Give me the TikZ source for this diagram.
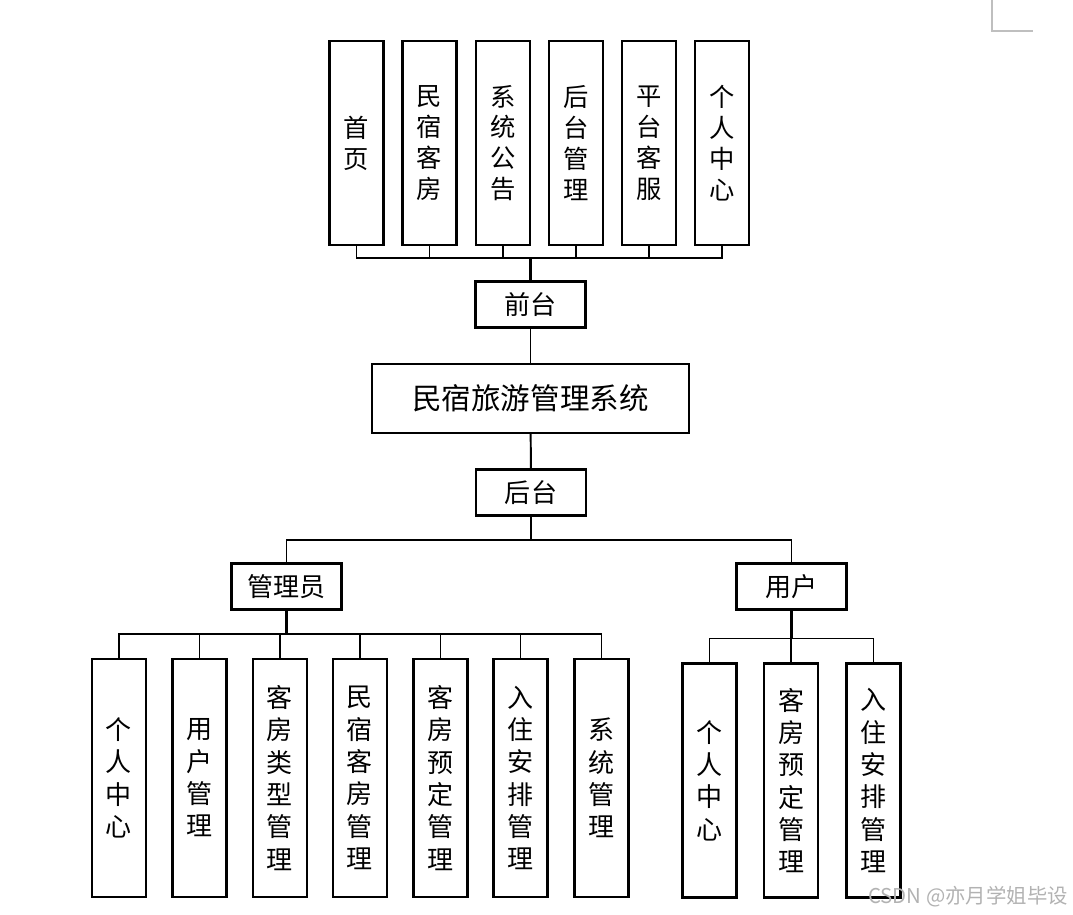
\documentclass[tikz,border=0pt]{standalone}
\usepackage{fontspec}
\usepackage{tikz}
\usetikzlibrary{positioning}
\newfontfamily\cjk{Noto Sans CJK SC}
\def\colW{54}
\def\topH{204}
\def\lowH{238}
\begin{document}
\begin{tikzpicture}[
    x=0.025cm, y=-0.025cm,
    line width=1.4pt,
    every node/.style={draw, line width=1.5pt, inner sep=0pt, font=\cjk},
    colbox/.style={minimum width=\colW*0.025cm, align=center},
    topbox/.style={colbox, minimum height=\topH*0.025cm, font=\cjk\fontsize{18}{22}\selectfont},
    lowbox/.style={colbox, minimum height=\lowH*0.025cm, font=\cjk\fontsize{18.5}{23}\selectfont},
    midbox/.style={minimum width=2.75cm, minimum height=1.15cm, font=\cjk\fontsize{18.5}{22}\selectfont},
    trunk/.style={line width=2.2pt}
]
\useasboundingbox (0,0) rectangle (1073,915);

% front end
\node[topbox] (sy) at (356.5,143) {首\\页};
\node[topbox] (mskf) at (429.5,143) {民\\宿\\客\\房};
\node[topbox] (xtgg) at (503,143) {系\\统\\公\\告};
\node[topbox] (htgl) at (576,143) {后\\台\\管\\理};
\node[topbox] (ptkf) at (649,143) {平\\台\\客\\服};
\node[topbox] (grzx) at (722,143) {个\\人\\中\\心};
\node[midbox] (qt) at (530.5,304.5) {前台};

% system
\node[minimum width=7.925cm, minimum height=1.725cm, font=\cjk\fontsize{21}{24}\selectfont] (sys) at (530.5,398.5) {民宿旅游管理系统};
\node[midbox] (ht) at (531,492.5) {后台};

% roles
\node[midbox] (admin) at (286.5,586.5) {管理员};
\node[midbox] (user) at (791.5,586.5) {用户};

% admin modules
\node[lowbox] (a1) at (119,778) {个\\人\\中\\心};
\node[lowbox] (a2) at (199.5,778) {用\\户\\管\\理};
\node[lowbox] (a3) at (280,778) {客\\房\\类\\型\\管\\理};
\node[lowbox] (a4) at (360,778) {民\\宿\\客\\房\\管\\理};
\node[lowbox] (a5) at (440.5,778) {客\\房\\预\\定\\管\\理};
\node[lowbox] (a6) at (520.5,778) {入\\住\\安\\排\\管\\理};
\node[lowbox] (a7) at (601.5,778) {系\\统\\管\\理};

% user modules
\node[lowbox, minimum height=234*0.025cm] (u1) at (709.5,780.5) {个\\人\\中\\心};
\node[lowbox, minimum height=234*0.025cm] (u2) at (791,780.5) {客\\房\\预\\定\\管\\理};
\node[lowbox, minimum height=234*0.025cm] (u3) at (873.5,780.5) {入\\住\\安\\排\\管\\理};

% buses
\coordinate (topbus) at (530.5,258);
\coordinate (midbus) at (531,540);
\coordinate (adminbus) at (286.5,634);
\coordinate (userbus) at (791.5,638.5);

\draw (sy.south) |- (topbus);
\draw (mskf.south) |- (topbus);
\draw (xtgg.south) |- (topbus);
\draw (htgl.south) |- (topbus);
\draw (ptkf.south) |- (topbus);
\draw (grzx.south) |- (topbus);
\draw[trunk] (topbus) -- (qt.north);
\draw (qt) -- (sys);
\draw (sys) -- (ht);
\draw (ht.south) -- (midbus);
\draw (admin.north) |- (midbus);
\draw (user.north) |- (midbus);

\draw[trunk] (admin.south) -- (adminbus);
\draw (a1.north) |- (adminbus);
\draw (a2.north) |- (adminbus);
\draw (a3.north) |- (adminbus);
\draw (a4.north) |- (adminbus);
\draw (a5.north) |- (adminbus);
\draw (a6.north) |- (adminbus);
\draw (a7.north) |- (adminbus);

\draw[trunk] (user.south) -- (userbus);
\draw (u1.north) |- (userbus);
\draw (u2.north) |- (userbus);
\draw (u3.north) |- (userbus);

% page corner mark and watermark
\coordinate (cornerA) at (992,0);
\coordinate (cornerB) at (1033,31);
\draw[black!25, line width=0.8pt] (cornerA) |- (cornerB);
\node[draw=none, text=black!30, font=\cjk\fontsize{14.5}{16}\selectfont] (wm) at (968,897) {CSDN @亦月学姐毕设};
\end{tikzpicture}
\end{document}
